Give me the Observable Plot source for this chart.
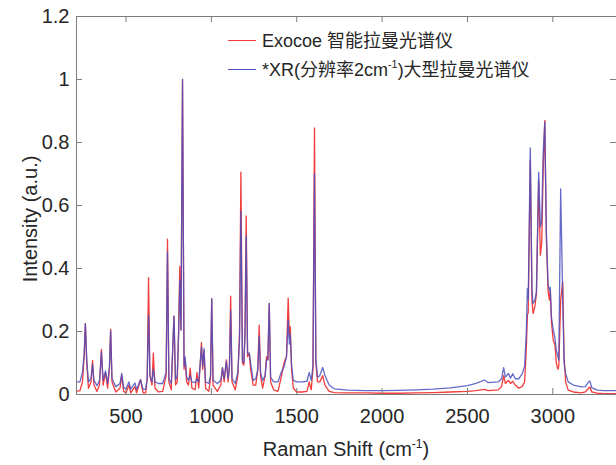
<!DOCTYPE html>
<html>
<head>
<meta charset="utf-8">
<script src="https://cdn.jsdelivr.net/npm/d3@7"></script>
<script src="https://cdn.jsdelivr.net/npm/@observablehq/plot@0.6"></script>
<style>
  html, body { margin: 0; padding: 0; background: #fff; }
  #wrap { position: relative; width: 616px; height: 465px; font-family: "Liberation Sans", Arial, "Noto Sans CJK SC", sans-serif; color: #262626; }
  .lbl { position: absolute; white-space: nowrap; font-size: 20px; line-height: 20px; }
  .leg { position: absolute; white-space: nowrap; font-size: 18px; line-height: 18px; font-family: "Liberation Sans", Arial, "Noto Sans CJK SC", sans-serif; }
  .legline { position: absolute; height: 0; border-top: 1.3px solid; width: 28px; }
  sup { font-size: 0.6em; line-height: 0; vertical-align: 0.7em; }
</style>
</head>
<body>
<div id="wrap"></div>
<script>
// Raman shift (cm^-1) sample positions
const shift = [210,230,245,255,262,270,280,295,304,312,330,345,356,366,380,392,403,410,418,440,465,475,486,500,517,528,552,562,585,600,615,624,632,640,652,660,670,690,715,735,743,751,765,781,790,800,808,815,822,831,840,846,855,866,876,886,905,916,926,942,949,957,966,985,995,1002,1010,1035,1055,1065,1075,1088,1098,1106,1113,1121,1140,1155,1165,1173,1182,1190,1197,1204,1212,1222,1230,1245,1260,1272,1280,1288,1300,1315,1323,1331,1339,1347,1365,1390,1407,1427,1440,1450,1457,1462,1470,1480,1500,1530,1560,1573,1585,1595,1604,1612,1622,1635,1652,1665,1690,1720,1800,1900,2000,2100,2200,2300,2400,2500,2550,2600,2620,2680,2700,2712,2722,2740,2752,2765,2780,2800,2820,2835,2845,2851,2856,2868,2878,2884,2895,2904,2917,2927,2935,2943,2953,2962,2972,2980,2985,2992,3003,3012,3021,3030,3035,3046,3058,3066,3075,3090,3120,3168,3190,3210,3217,3228,3260,3300,3373];
// Exocoe 智能拉曼光谱仪 (red)
const exocoe = [0.010,0.012,0.040,0.120,0.225,0.100,0.020,0.040,0.108,0.030,0.010,0.030,0.143,0.030,0.070,0.020,0.080,0.207,0.040,0.008,0.020,0.060,0.010,0.005,0.030,0.005,0.025,0.005,0.047,0.005,0.005,0.050,0.371,0.060,0.030,0.132,0.020,0.008,0.010,0.060,0.493,0.040,0.015,0.249,0.030,0.040,0.200,0.407,0.205,1.000,0.080,0.114,0.040,0.030,0.084,0.020,0.015,0.070,0.020,0.165,0.080,0.140,0.020,0.010,0.050,0.304,0.030,0.010,0.030,0.085,0.040,0.110,0.040,0.090,0.312,0.040,0.015,0.060,0.200,0.706,0.100,0.093,0.200,0.567,0.120,0.130,0.080,0.030,0.030,0.080,0.220,0.060,0.020,0.060,0.120,0.110,0.289,0.040,0.015,0.010,0.050,0.104,0.120,0.306,0.180,0.215,0.080,0.020,0.008,0.008,0.010,0.040,0.015,0.080,0.846,0.100,0.040,0.040,0.060,0.030,0.010,0.006,0.005,0.005,0.004,0.004,0.005,0.006,0.008,0.010,0.012,0.016,0.012,0.015,0.025,0.060,0.035,0.045,0.035,0.042,0.030,0.020,0.025,0.040,0.150,0.252,0.260,0.745,0.300,0.257,0.280,0.320,0.680,0.442,0.480,0.700,0.870,0.500,0.330,0.300,0.330,0.230,0.170,0.160,0.098,0.080,0.090,0.300,0.357,0.120,0.040,0.014,0.008,0.005,0.008,0.020,0.024,0.008,0.004,0.003,0.003];
// *XR(分辨率2cm-1)大型拉曼光谱仪 (blue)
const xr = [0.040,0.040,0.070,0.130,0.225,0.110,0.040,0.050,0.096,0.045,0.028,0.045,0.135,0.045,0.075,0.035,0.090,0.202,0.050,0.025,0.035,0.067,0.022,0.018,0.040,0.017,0.037,0.016,0.047,0.016,0.016,0.050,0.252,0.060,0.040,0.080,0.040,0.035,0.035,0.070,0.453,0.050,0.035,0.249,0.045,0.060,0.190,0.363,0.205,1.000,0.090,0.120,0.055,0.045,0.060,0.040,0.038,0.050,0.040,0.150,0.090,0.146,0.040,0.035,0.060,0.304,0.045,0.035,0.045,0.085,0.050,0.105,0.050,0.090,0.267,0.050,0.035,0.070,0.170,0.582,0.110,0.100,0.180,0.503,0.130,0.132,0.100,0.045,0.050,0.080,0.185,0.070,0.045,0.060,0.110,0.110,0.289,0.055,0.040,0.040,0.067,0.090,0.120,0.236,0.160,0.190,0.090,0.045,0.040,0.040,0.042,0.070,0.045,0.090,0.701,0.110,0.055,0.060,0.086,0.060,0.030,0.018,0.014,0.012,0.012,0.013,0.015,0.017,0.021,0.028,0.035,0.046,0.038,0.040,0.050,0.085,0.055,0.067,0.052,0.066,0.050,0.050,0.065,0.090,0.200,0.336,0.300,0.783,0.330,0.289,0.300,0.326,0.706,0.532,0.550,0.759,0.865,0.520,0.352,0.330,0.340,0.246,0.204,0.180,0.140,0.120,0.109,0.653,0.300,0.100,0.067,0.040,0.030,0.024,0.025,0.040,0.043,0.022,0.014,0.012,0.012];

const xTicks = [500, 1000, 1500, 2000, 2500, 3000];
const yTicks = [0, 0.2, 0.4, 0.6, 0.8, 1, 1.2];
const legendLabels = ["Exocoe 智能拉曼光谱仪", "*XR(分辨率2cm<sup>-1</sup>)大型拉曼光谱仪"];
const colors = ["#f23d3d", "#4a50c0"];

const rows = shift.map((x, i) => ({x, r: exocoe[i], b: xr[i]}));

const W = 616, H = 465, mL = 76, mR = 0, mT = 16, mB = 71;
const plotW = W - mL - mR, plotH = H - mT - mB;
const gray = "#7c7c7c";
const tl = 6;

const chart = Plot.plot({
  width: W, height: H,
  marginLeft: mL, marginRight: mR, marginTop: mT, marginBottom: mB,
  x: {domain: [210, 3373]},
  y: {domain: [0, 1.2]},
  style: {fontFamily: "'Liberation Sans', Arial, sans-serif", fontSize: "20px", color: "#262626", background: "#fff"},
  marks: [
    Plot.line(rows, {x: "x", y: "r", stroke: colors[0], strokeWidth: 1.3}),
    Plot.line(rows, {x: "x", y: "b", stroke: colors[1], strokeWidth: 1.3, strokeOpacity: 0.85}),
    Plot.frame({stroke: gray}),
    Plot.ruleX(xTicks, {x: d => d, insetTop: plotH - tl, stroke: gray}),
    Plot.ruleX(xTicks, {x: d => d, insetBottom: plotH - tl, stroke: gray}),
    Plot.ruleY(yTicks, {y: d => d, insetRight: plotW - tl, stroke: gray}),
    Plot.ruleY(yTicks, {y: d => d, insetLeft: plotW - tl, stroke: gray}),
    Plot.axisX(xTicks, {tickSize: 0, tickPadding: 14, tickFormat: d => String(d), label: null, fontSize: 20}),
    Plot.axisY(yTicks, {tickSize: 0, tickPadding: 7, tickFormat: d => String(d), label: null, fontSize: 20})
  ]
});

const wrap = document.getElementById("wrap");
wrap.appendChild(chart);

// legend
const legY = [41, 70];
legendLabels.forEach((t, i) => {
  const ln = document.createElement("div");
  ln.className = "legline";
  ln.style.left = "228px";
  ln.style.top = (legY[i] - 0.6) + "px";
  ln.style.borderTopColor = colors[i];
  wrap.appendChild(ln);
  const tx = document.createElement("div");
  tx.className = "leg";
  tx.style.left = "262px";
  tx.style.top = (legY[i] - 9) + "px";
  tx.innerHTML = t;
  wrap.appendChild(tx);
});

// axis labels
const xl = document.createElement("div");
xl.className = "lbl";
xl.innerHTML = "Raman Shift (cm<sup>-1</sup>)";
xl.style.left = (mL + plotW / 2) + "px";
xl.style.top = "439px";
xl.style.transform = "translateX(-50%)";
wrap.appendChild(xl);

const yl = document.createElement("div");
yl.className = "lbl";
yl.textContent = "Intensity (a.u.)";
yl.style.left = "30px";
yl.style.top = "219px";
yl.style.transform = "translate(-50%, -50%) rotate(-90deg)";
wrap.appendChild(yl);
</script>
</body>
</html>
